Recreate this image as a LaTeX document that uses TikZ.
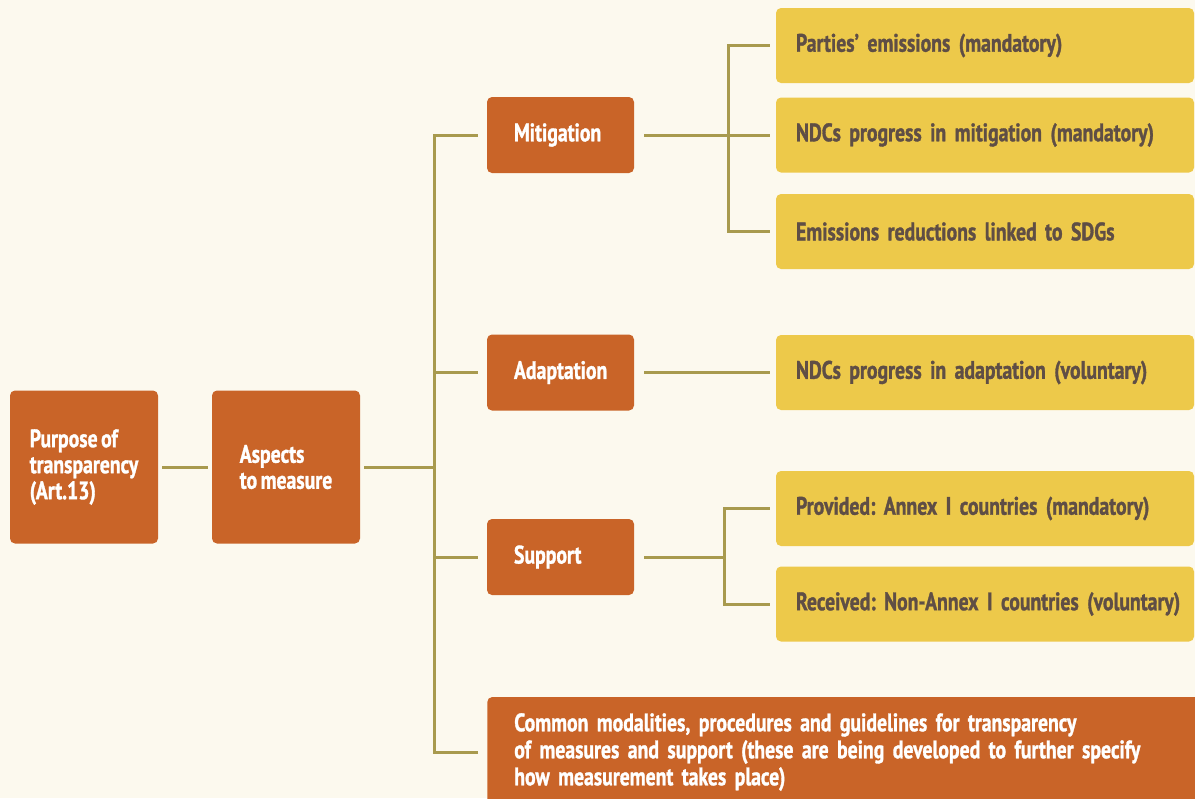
\documentclass[tikz,border=0pt]{standalone}
\usepackage{fontspec}
\newfontfamily\gillfont[FakeStretch=0.78, WordSpace=0.7, BoldFeatures={FakeBold=1.2}]{PT Sans}
\newlength{\pu}
\setlength{\pu}{0.025cm}
\frenchspacing

\definecolor{bgcol}{HTML}{FCF9EE}
\definecolor{rust}{HTML}{C96428}
\definecolor{mustard}{HTML}{EDC94A}
\definecolor{olive}{HTML}{A89A4E}
\definecolor{darktxt}{HTML}{5F4E45}

\tikzset{
  orangebox/.style={rectangle, rounded corners=5\pu, fill=rust, text=white,
    font=\gillfont\bfseries\fontsize{18}{18.5}\selectfont, align=left},
  yellowbox/.style={rectangle, rounded corners=5\pu, fill=mustard, text=darktxt,
    font=\gillfont\bfseries\fontsize{18}{18.5}\selectfont, align=left,
    text width=410\pu, inner xsep=4\pu, minimum height=75\pu,
    execute at begin node={\hspace*{16\pu}}},
  midbox/.style={orangebox, text width=93\pu, inner xsep=27\pu, minimum height=76\pu},
  link/.style={draw=olive, line width=3\pu}
}

\begin{document}
\begin{tikzpicture}[x=\pu, y=-\pu]
    \fill[bgcol] (0,0) rectangle (1195,798);
    \useasboundingbox (0,0) rectangle (1195,798);

    % Nodes
    \node[orangebox, minimum width=148\pu, minimum height=153\pu] (pur) at (84,467)
        {Purpose of\\transparency\\(Art.13)};
    \node[orangebox, minimum width=148\pu, minimum height=153\pu] (asp) at (286,467)
        {Aspects\\to measure};

    \node[midbox] (mit) at (560.5,135) {Mitigation};
    \node[midbox] (ada) at (560.5,372.5) {Adaptation};
    \node[midbox] (sup) at (560.5,557) {Support};
    \node[orangebox, text width=664\pu, inner xsep=27\pu, minimum height=110\pu,
          font=\gillfont\bfseries\fontsize{18}{19.2}\selectfont,
          anchor=west] (cmp) at (487,752)
        {Common modalities, procedures and guidelines for transparency\\
         of measures and support (these are being developed to further specify\\
         how measurement takes place)};

    \node[yellowbox] (p1) at (985,45.5) {Parties’ emissions (mandatory)};
    \node[yellowbox] (p2) at (985,135) {NDCs progress in mitigation (mandatory)};
    \node[yellowbox] (p3) at (985,231.5) {Emissions reductions linked to SDGs};
    \node[yellowbox] (a1) at (985,372.5) {NDCs progress in adaptation (voluntary)};
    \node[yellowbox] (s1) at (985,508.5) {Provided: Annex I countries (mandatory)};
    \node[yellowbox] (s2) at (985,604) {Received: Non-Annex I countries (voluntary)};

    \coordinate (tk) at (434,467);
    \coordinate (mj) at (728,135);
    \coordinate (sj) at (724,557);

    % Lines
    \draw[link, shorten <=4\pu, shorten >=4\pu] (pur) -- (asp);
    \draw[link, shorten <=4\pu] (asp.east) -- (tk);

    \draw[link, shorten <=9\pu] (mit.west) -| (tk);
    \draw[link, shorten <=9\pu] (ada.west) -| (tk);
    \draw[link, shorten <=9\pu] (sup.west) -| (tk);
    \draw[link, shorten <=9\pu] (cmp.west) -| (tk);

    \draw[link, shorten <=10\pu] (mit.east) -- (mj);
    \draw[link, shorten >=6\pu] (mj) |- (p1.west);
    \draw[link, shorten >=6\pu] (mj) -- (p2.west);
    \draw[link, shorten >=6\pu] (mj) |- (p3.west);

    \draw[link, shorten <=10\pu, shorten >=6\pu] (ada.east) -- (a1.west);

    \draw[link, shorten <=10\pu] (sup.east) -- (sj);
    \draw[link, shorten >=6\pu] (sj) |- (s1.west);
    \draw[link, shorten >=6\pu] (sj) |- (s2.west);
\end{tikzpicture}
\end{document}
